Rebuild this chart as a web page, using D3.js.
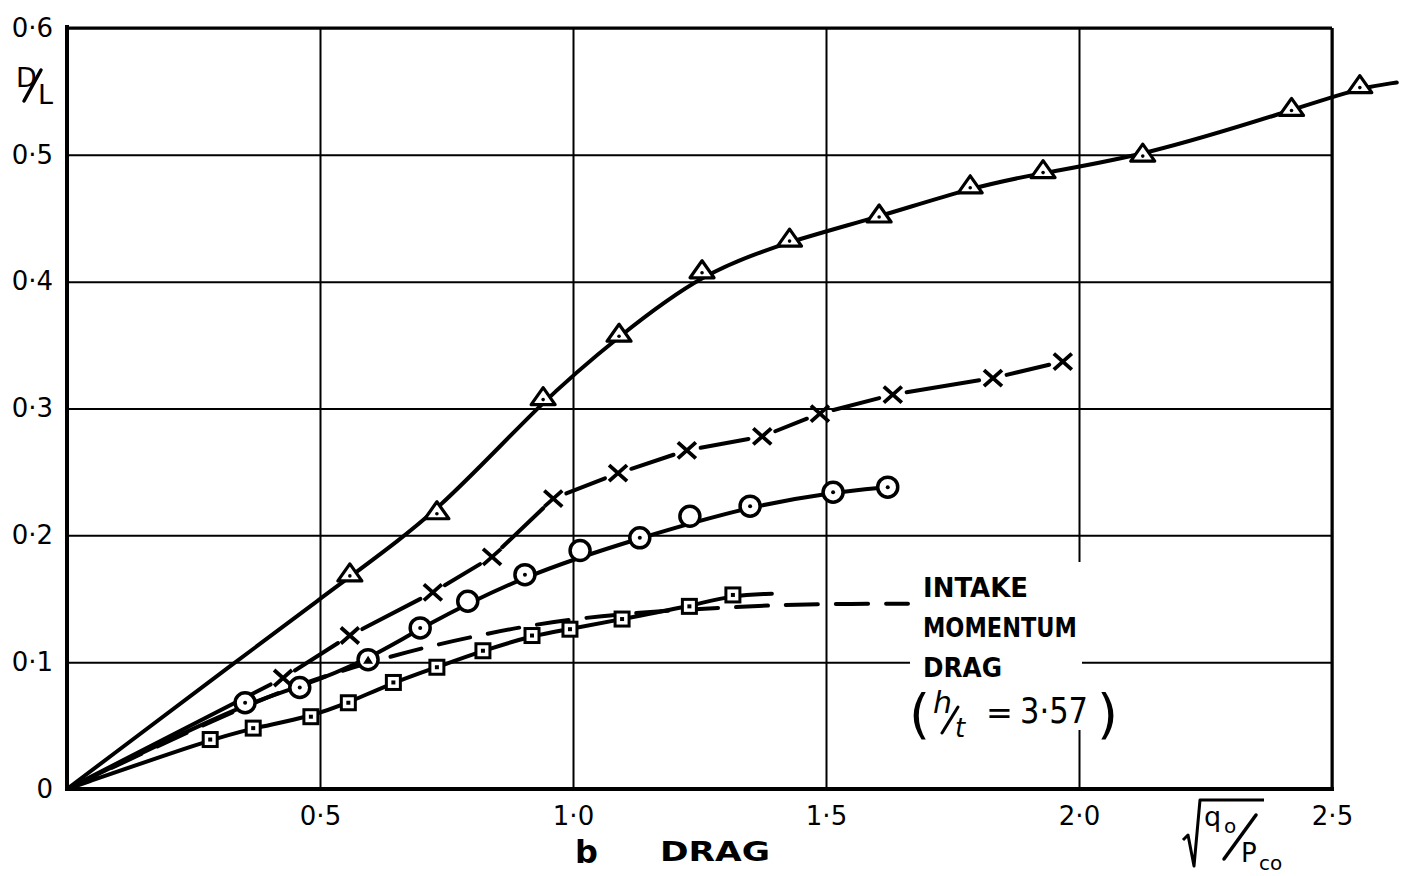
<!DOCTYPE html>
<html>
<head>
<meta charset="utf-8">
<script src="https://unpkg.com/d3@7/dist/d3.min.js"></script>
<style>
  body { margin: 0; background: #fff; }
  text { font-family: "DejaVu Sans", sans-serif; fill: #000; }
</style>
</head>
<body>
<div id="chart"></div>
<script>
  var width = 1406, height = 876;

  // axis ticks
  var xTicks = [0.5, 1.0, 1.5, 2.0, 2.5];
  var yTicks = [0, 0.1, 0.2, 0.3, 0.4, 0.5, 0.6];

  // triangle series (top curve)
  var triX = [0.559, 0.731, 0.941, 1.091, 1.255, 1.428, 1.605, 1.785, 1.929, 2.126, 2.42, 2.555];
  var triY = [0.168, 0.217, 0.307, 0.357, 0.407, 0.432, 0.451, 0.474, 0.486, 0.499, 0.535, 0.553];
  var triEnd = [2.628, 0.557];

  // cross series (broken line)
  var crossX = [0.427, 0.559, 0.723, 0.840, 0.961, 1.089, 1.225, 1.374, 1.488, 1.632, 1.830, 1.968];
  var crossY = [0.0875, 0.121, 0.155, 0.183, 0.229, 0.249, 0.267, 0.278, 0.296, 0.311, 0.324, 0.337];

  // circle series ("open" points sit off the faired line)
  var circX = [0.352, 0.460, 0.595, 0.698, 0.792, 0.905, 1.014, 1.132, 1.231, 1.350, 1.514, 1.622];
  var circY = [0.068, 0.080, 0.102, 0.127, 0.148, 0.169, 0.188, 0.198, 0.215, 0.223, 0.234, 0.238];
  var circMark = ["dot", "dot", "tri", "dot", "open", "dot", "open", "dot", "open", "dot", "dot", "dot"];

  // square series
  var sqX = [0.283, 0.368, 0.482, 0.556, 0.645, 0.731, 0.822, 0.919, 0.994, 1.097, 1.230, 1.316];
  var sqY = [0.039, 0.048, 0.057, 0.068, 0.084, 0.096, 0.109, 0.121, 0.126, 0.134, 0.144, 0.153];
  var sqEnd = [1.393, 0.154];

  // intake momentum drag (dashed)
  var dragX = [0, 0.35, 0.5, 0.6, 0.7, 0.8, 0.9, 1.0, 1.1, 1.2, 1.3, 1.4, 1.5, 1.662];
  var dragY = [0, 0.066, 0.088, 0.100, 0.111, 0.120, 0.128, 0.134, 0.138, 0.141, 0.143, 0.145, 0.146, 0.146];

  function zip(a, b) { return a.map(function(v, i) { return [v, b[i]]; }); }
  function fmt(d) { return d === 0 ? "0" : d.toFixed(1).replace(".", "\u00b7"); }

  var x = d3.scaleLinear().domain([0, 2.5]).range([67, 1332]);
  var y = d3.scaleLinear().domain([0, 0.6]).range([789, 28]);

  var svg = d3.select("#chart").append("svg")
    .attr("width", width).attr("height", height);

  svg.append("rect").attr("width", width).attr("height", height).attr("fill", "#fff");

  // grid + tick labels
  var gx = svg.append("g").attr("transform", "translate(0," + y(0) + ")")
    .call(d3.axisBottom(x).tickValues(xTicks).tickSize(-(y(0) - y(0.6))).tickPadding(18).tickFormat(fmt));
  var gy = svg.append("g").attr("transform", "translate(" + x(0) + ",0)")
    .call(d3.axisLeft(y).tickValues(yTicks).tickSize(-(x(2.5) - x(0))).tickPadding(14).tickFormat(fmt));
  [gx, gy].forEach(function(g) {
    g.select(".domain").remove();
    g.selectAll(".tick line").attr("stroke", "#000").attr("stroke-width", 2);
    g.selectAll(".tick text").attr("font-size", 26).attr("font-family", "DejaVu Sans");
  });

  // white box behind the drag label
  svg.append("rect").attr("x", 910).attr("y", 562).attr("width", 172).attr("height", 168).attr("fill", "#fff");

  // frame
  function frame(x1, y1, x2, y2, w) {
    svg.append("line").attr("x1", x1).attr("y1", y1).attr("x2", x2).attr("y2", y2)
      .attr("stroke", "#000").attr("stroke-width", w);
  }
  frame(x(0), y(0.6) - 3, x(0), y(0) + 2, 4);
  frame(x(0) - 2, y(0), x(2.5) + 2, y(0), 4);
  frame(x(0), y(0.6), x(2.5), y(0.6), 3);
  frame(x(2.5), y(0.6), x(2.5), y(0), 3);

  // faired curves: a smoothing spline, like a draughtsman's french curve
  var line = d3.line().x(function(d) { return x(d[0]); }).y(function(d) { return y(d[1]); })
    .curve(d3.curveBasis);

  function drawPath(data, dash) {
    svg.append("path").datum(data).attr("d", line)
      .attr("fill", "none").attr("stroke", "#000").attr("stroke-width", 4)
      .attr("stroke-linecap", "round").attr("stroke-dasharray", dash || null);
  }

  drawPath([[0, 0]].concat(zip(triX, triY), [triEnd]));
  drawPath([[0, 0]].concat(zip(circX, circY).filter(function(d, i) { return circMark[i] !== "open"; })));
  drawPath([[0, 0]].concat(zip(sqX, sqY), [sqEnd]));
  drawPath(zip(dragX, dragY), "32,18");

  // cross line: straight segments broken at each marker
  var cp = [[0, 0]].concat(zip(crossX, crossY)).map(function(d) { return [x(d[0]), y(d[1])]; });
  for (var i = 0; i < cp.length - 1; i++) {
    var p = cp[i], q = cp[i + 1];
    var dx = q[0] - p[0], dy = q[1] - p[1], len = Math.sqrt(dx * dx + dy * dy);
    var ux = dx / len, uy = dy / len;
    var g0 = i === 0 ? 0 : 14, g1 = 14;
    svg.append("line")
      .attr("x1", p[0] + ux * g0).attr("y1", p[1] + uy * g0)
      .attr("x2", q[0] - ux * g1).attr("y2", q[1] - uy * g1)
      .attr("stroke", "#000").attr("stroke-width", 4).attr("stroke-linecap", "round");
  }

  // markers
  svg.selectAll(".tri").data(zip(triX, triY)).enter().append("g")
    .attr("transform", function(d) { return "translate(" + x(d[0]) + "," + y(d[1]) + ")"; })
    .each(function() {
      var g = d3.select(this);
      g.append("path").attr("d", "M-12,5 L12,5 L0,-12 Z")
        .attr("fill", "#fff").attr("stroke", "#000").attr("stroke-width", 3.2).attr("stroke-linejoin", "round");
      g.append("circle").attr("cy", 0).attr("r", 1.8).attr("fill", "#000");
    });

  svg.selectAll(".cross").data(zip(crossX, crossY)).enter().append("path")
    .attr("transform", function(d) { return "translate(" + x(d[0]) + "," + y(d[1]) + ")"; })
    .attr("d", "M-9,-8 L9,8 M-9,8 L9,-8")
    .attr("stroke", "#000").attr("stroke-width", 3.8).attr("fill", "none");

  svg.selectAll(".circ").data(zip(circX, circY)).enter().append("g")
    .attr("transform", function(d) { return "translate(" + x(d[0]) + "," + y(d[1]) + ")"; })
    .each(function(d, i) {
      var g = d3.select(this);
      g.append("circle").attr("r", 10).attr("fill", "#fff").attr("stroke", "#000").attr("stroke-width", 3.5);
      if (circMark[i] === "dot") g.append("circle").attr("r", 2).attr("fill", "#000");
      if (circMark[i] === "tri") g.append("path").attr("d", "M-5,4 L5,4 L0,-4 Z").attr("fill", "#000");
    });

  svg.selectAll(".sq").data(zip(sqX, sqY)).enter().append("g")
    .attr("transform", function(d) { return "translate(" + x(d[0]) + "," + y(d[1]) + ")"; })
    .each(function() {
      var g = d3.select(this);
      g.append("rect").attr("x", -7).attr("y", -7).attr("width", 14).attr("height", 14)
        .attr("fill", "#fff").attr("stroke", "#000").attr("stroke-width", 3);
      g.append("rect").attr("x", -2).attr("y", -2).attr("width", 4).attr("height", 4).attr("fill", "#000");
    });

  // axis titles
  function slash(x1, y1, x2, y2, w) {
    svg.append("line").attr("x1", x1).attr("y1", y1).attr("x2", x2).attr("y2", y2)
      .attr("stroke", "#000").attr("stroke-width", w).attr("stroke-linecap", "round");
  }
  svg.append("text").attr("x", 16).attr("y", 87).attr("font-size", 27).text("D");
  slash(24, 101, 41, 70, 3.5);
  svg.append("text").attr("x", 38).attr("y", 104).attr("font-size", 27).text("L");

  svg.append("text").attr("x", 575).attr("y", 863).attr("font-size", 32).attr("font-weight", "bold").text("b");
  svg.append("text").attr("x", 660).attr("y", 861).attr("font-size", 27).attr("font-weight", "bold")
    .attr("textLength", 110).attr("lengthAdjust", "spacingAndGlyphs").text("DRAG");

  svg.append("path").attr("d", "M1183,840 L1188,835 L1194,866 L1200,800 L1264,800")
    .attr("fill", "none").attr("stroke", "#000").attr("stroke-width", 3).attr("stroke-linejoin", "round");
  svg.append("text").attr("x", 1204).attr("y", 826).attr("font-size", 27).text("q");
  svg.append("text").attr("x", 1224).attr("y", 833).attr("font-size", 20).text("o");
  slash(1224, 859, 1256, 815, 3.5);
  svg.append("text").attr("x", 1241).attr("y", 862).attr("font-size", 26).text("P");
  svg.append("text").attr("x", 1259).attr("y", 870).attr("font-size", 20).text("co");

  // intake momentum drag label
  var lab = ["INTAKE", "MOMENTUM", "DRAG"];
  var lw = [105, 154, 79];
  lab.forEach(function(t, i) {
    svg.append("text").attr("x", 923).attr("y", 597 + i * 40).attr("font-size", 26)
      .attr("font-weight", "bold").attr("textLength", lw[i]).attr("lengthAdjust", "spacingAndGlyphs").text(t);
  });
  svg.append("text").attr("x", 909).attr("y", 733).attr("font-size", 54).text("(");
  svg.append("text").attr("x", 933).attr("y", 713).attr("font-size", 30).attr("font-style", "italic").text("h");
  slash(942, 733, 958, 707, 3);
  svg.append("text").attr("x", 955).attr("y", 737).attr("font-size", 26).attr("font-style", "italic").text("t");
  svg.append("text").attr("x", 986).attr("y", 724).attr("font-size", 32).text("=");
  svg.append("text").attr("x", 1020).attr("y", 723).attr("font-size", 36)
    .attr("textLength", 68).attr("lengthAdjust", "spacingAndGlyphs").text("3\u00b757");
  svg.append("text").attr("x", 1097).attr("y", 733).attr("font-size", 54).text(")");
</script>
</body>
</html>
